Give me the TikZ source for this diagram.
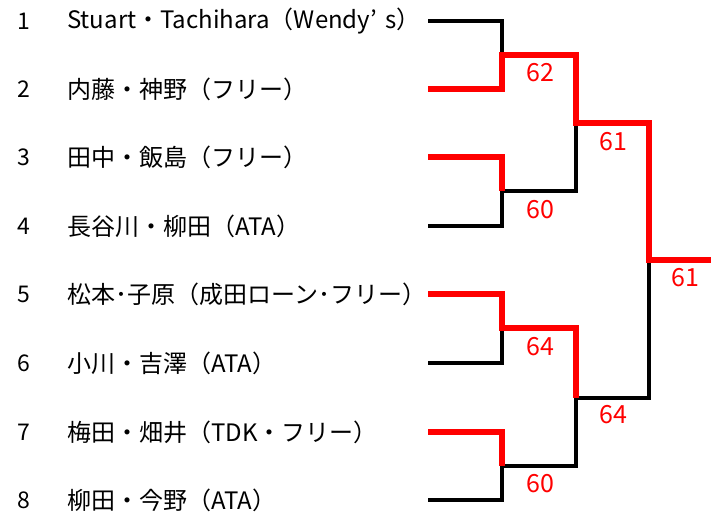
\documentclass[tikz,border=0pt]{standalone}
\usepackage{fontspec}
\setmainfont{Noto Sans CJK JP}

\begin{document}
\begin{tikzpicture}[x=1pt,y=-1pt,
  win/.style={draw=red,line width=5.5pt},
  lose/.style={draw=black,line width=3.5pt},
  score/.style={text=red,font=\fontsize{25}{25}\selectfont},
  entry/.style={anchor=west,inner sep=0pt,font=\fontsize{24}{24}\selectfont},
  seed/.style={inner sep=0pt,font=\fontsize{23}{23}\selectfont}]
\useasboundingbox (0,0) rectangle (711,518);
% entries
\foreach \i/\y/\t in {1/21/Stuart・Tachihara（Wendy’\hspace{0.35em}s）,
                       2/89/内藤・神野（フリー）,
                       3/157/田中・飯島（フリー）,
                       4/226/長谷川・柳田（ATA）,
                       5/294/松本･子原（成田ローン･フリー）,
                       6/363/小川・吉澤（ATA）,
                       7/432/梅田・畑井（TDK・フリー）,
                       8/500/柳田・今野（ATA）} {
  \node[seed] (k\i) at (24,\y) {\i};
  \node[entry] (n\i) at (67,\y) {\t};
  \coordinate (p\i) at (428,\y);
}
% rounds
\coordinate (a1) at (502,55);
\coordinate (a2) at (502,191);
\coordinate (a3) at (502,328);
\coordinate (a4) at (502,466);
\coordinate (b1) at (576,123);
\coordinate (b2) at (576,398);
\coordinate (c1) at (649,260);
\coordinate (fin) at (711,260);
% losers
\draw[lose] (p1) -| (a1);
\draw[lose] (p4) -| (a2);
\draw[lose] (p6) -| (a3);
\draw[lose] (p8) -| (a4);
\draw[lose] (a2) -| (b1);
\draw[lose] (a4) -| (b2);
\draw[lose] (b2) -| (c1);
% winners
\draw[win] (p2) -| (a1) -| (b1) -| (c1) -- (fin);
\draw[win] (p3) -| (a2);
\draw[win] (p5) -| (a3) -| (b2);
\draw[win] (p7) -| (a4);
% scores
\node[score] (s1) at (540,73) {62};
\node[score] (s2) at (540,210) {60};
\node[score] (s3) at (540,347) {64};
\node[score] (s4) at (540,484) {60};
\node[score] (s5) at (613,142) {61};
\node[score] (s6) at (613,415) {64};
\node[score] (s7) at (685,278) {61};
\end{tikzpicture}
\end{document}
